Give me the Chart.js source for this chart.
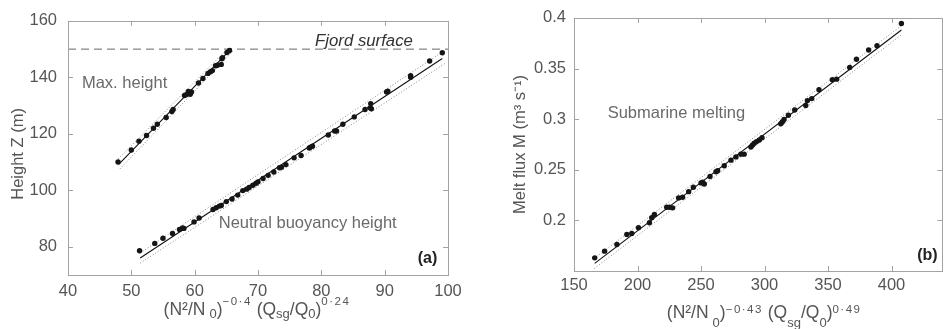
<!DOCTYPE html>
<html><head><meta charset="utf-8">
<script src="https://cdn.jsdelivr.net/npm/chart.js@4/dist/chart.umd.min.js"></script>
<style>
body{margin:0;background:#fff;width:945px;height:329px;overflow:hidden;position:relative}
canvas{position:absolute;top:0}
#ca{left:0}#cb{left:470px}
</style></head><body>
<canvas id="ca" width="470" height="329"></canvas>
<canvas id="cb" width="475" height="329"></canvas>
<script>
// ---------- Panel (a) data ----------
const maxHeightX = [47.9, 50.0, 51.2, 52.4, 53.5, 54.1, 55.5, 56.4, 56.6, 58.4, 58.7, 59.0, 59.2, 59.5, 59.3, 60.6, 61.3, 62.1, 62.5, 62.8, 63.3, 63.6, 64.2, 64.3, 64.4, 65.1, 65.5];
const maxHeightY = [110.0, 114.3, 117.4, 119.4, 122.0, 123.4, 125.8, 127.9, 128.6, 133.6, 133.9, 135.0, 134.4, 134.8, 134.0, 138.0, 139.6, 141.4, 142.0, 142.4, 144.1, 144.3, 144.6, 146.6, 147.0, 148.8, 149.5];
const neutralX = [51.3, 53.7, 55.0, 56.5, 57.6, 58.1, 58.3, 59.9, 60.7, 62.9, 63.4, 63.9, 64.2, 65.0, 65.9, 66.8, 67.6, 68.2, 68.6, 69.2, 69.7, 70.0, 70.8, 71.6, 72.5, 73.4, 73.7, 74.4, 75.7, 76.8, 78.1, 78.3, 78.6, 81.1, 82.1, 82.4, 83.4, 85.2, 86.9, 87.7, 87.8, 87.9, 90.3, 90.5, 94.1, 94.1, 97.1, 99.1];
const neutralY = [78.6, 81.2, 83.0, 84.7, 86.1, 86.7, 86.5, 88.8, 90.2, 93.2, 93.8, 94.4, 94.6, 96.0, 96.9, 98.3, 99.9, 100.4, 101.0, 101.8, 102.5, 103.0, 104.2, 105.3, 106.5, 108.0, 108.2, 109.1, 111.5, 112.3, 115.0, 115.3, 115.6, 119.6, 121.0, 121.0, 123.4, 126.0, 128.6, 129.2, 130.7, 128.9, 134.8, 135.1, 140.0, 140.6, 145.8, 148.7];
// fit lines and bounds (end points)
const maxFitX = [48.0, 65.8];      const maxFitY = [109.2, 150.2];
const maxUpX = [47.6, 65.3];       const maxUpY = [110.4, 150.4];
const maxLoX = [48.2, 66.0];       const maxLoY = [107.6, 149.2];
const neuFitX = [51.4, 99.1];      const neuFitY = [76.0, 146.7];
const neuUpX = [51.4, 99.5];       const neuUpY = [77.8, 149.6];
const neuLoX = [51.4, 99.5];       const neuLoY = [74.2, 144.9];
const fjordSurfaceZ = 150;
const xTicksA = [40, 50, 60, 70, 80, 90, 100];
const yTicksA = [80, 100, 120, 140, 160];

// ---------- Panel (b) data ----------
const meltX = [166.3, 174.1, 183.8, 191.6, 195.5, 200.8, 209.4, 211.2, 213.3, 223.0, 225.1, 227.7, 232.4, 235.5, 240.3, 244.0, 250.0, 251.3, 252.6, 257.1, 261.8, 263.1, 268.3, 273.6, 277.5, 281.4, 284.0, 289.3, 290.6, 291.9, 293.7, 295.9, 298.0, 312.8, 314.1, 315.4, 318.8, 323.8, 332.5, 333.8, 337.2, 342.9, 353.4, 356.8, 367.1, 372.4, 382.0, 388.6, 407.8];
const meltY = [0.163, 0.1696, 0.1762, 0.186, 0.187, 0.1928, 0.1977, 0.2026, 0.2059, 0.213, 0.213, 0.2124, 0.2222, 0.2229, 0.2284, 0.2327, 0.237, 0.2376, 0.236, 0.2434, 0.248, 0.249, 0.2539, 0.2595, 0.2627, 0.2654, 0.2654, 0.2725, 0.2745, 0.2762, 0.2778, 0.2794, 0.2817, 0.2954, 0.2974, 0.2997, 0.3039, 0.3091, 0.3134, 0.3183, 0.3203, 0.3291, 0.3389, 0.3395, 0.351, 0.3591, 0.3683, 0.3725, 0.3944];
const meltFitX = [166.3, 407.8];   const meltFitY = [0.1575, 0.388];
const meltUpX = [166.0, 408.0];    const meltUpY = [0.1625, 0.3925];
const meltLoX = [166.0, 408.0];    const meltLoY = [0.1525, 0.3835];
const xTicksB = [150, 200, 250, 300, 350, 400];
const yTicksB = [0.2, 0.25, 0.3, 0.35, 0.4];

// ---------- helpers ----------
const FAM = "'Liberation Sans', Arial, Helvetica, sans-serif";
const pts = (xs, ys) => xs.map((x, i) => ({x, y: ys[i]}));
const AXC = '#a3a3a3';

function scatterSet(xs, ys) {
  return {data: pts(xs, ys), showLine: false, pointRadius: 2.7, pointHoverRadius: 2.7,
    backgroundColor: '#151515', borderWidth: 0};
}
function lineSet(xs, ys, color, width, dash) {
  return {data: pts(xs, ys), showLine: true, pointRadius: 0, borderColor: color,
    borderWidth: width, borderDash: dash || [], fill: false, tension: 0};
}

function drawRich(ctx, parts, cx, base, color) {
  let w = 0;
  parts.forEach(p => {
    ctx.font = p.size + 'px ' + FAM; ctx.letterSpacing = (p.ls || 0) + 'px';
    p.w = ctx.measureText(p.t).width + (p.gap || 0); w += p.w;
  });
  let x = cx - w / 2;
  ctx.fillStyle = color; ctx.textBaseline = 'alphabetic'; ctx.textAlign = 'left';
  parts.forEach(p => {
    ctx.font = p.size + 'px ' + FAM; ctx.letterSpacing = (p.ls || 0) + 'px';
    ctx.fillText(p.t, x + (p.gap || 0), base + (p.dy || 0)); x += p.w;
  });
  ctx.letterSpacing = '0px';
}

const framePlugin = {
  id: 'frame',
  afterDatasetsDraw(chart, args, opts) {
    const {ctx, chartArea: a, scales} = chart;
    ctx.save();
    ctx.strokeStyle = AXC; ctx.lineWidth = 1;
    ctx.strokeRect(Math.round(a.left) + 0.5, Math.round(a.top) + 0.5, Math.round(a.right - a.left), Math.round(a.bottom - a.top));
    const L = 5;
    ctx.beginPath();
    scales.x.ticks.forEach(t => {
      const px = Math.round(scales.x.getPixelForValue(t.value)) + 0.5;
      ctx.moveTo(px, a.bottom); ctx.lineTo(px, a.bottom - L);
      ctx.moveTo(px, a.top); ctx.lineTo(px, a.top + L);
    });
    scales.y.ticks.forEach(t => {
      const py = Math.round(scales.y.getPixelForValue(t.value)) + 0.5;
      ctx.moveTo(a.left, py); ctx.lineTo(a.left + L, py);
      ctx.moveTo(a.right, py); ctx.lineTo(a.right - L, py);
    });
    ctx.stroke();
    // annotations placed in data coordinates
    (opts.notes || []).forEach(n => {
      ctx.font = (n.style || '') + ' ' + n.size + 'px ' + FAM;
      ctx.fillStyle = n.color; ctx.textAlign = n.align; ctx.textBaseline = 'middle';
      ctx.fillText(n.text, scales.x.getPixelForValue(n.x), scales.y.getPixelForValue(n.y));
    });
    // y axis title (rotated)
    if (opts.yTitle) {
      const t = opts.yTitle;
      ctx.save();
      ctx.translate(t.cx, (a.top + a.bottom) / 2 + (t.shift || 0));
      ctx.rotate(-Math.PI / 2);
      ctx.font = t.size + 'px ' + FAM; ctx.fillStyle = '#555';
      ctx.textAlign = 'center'; ctx.textBaseline = 'middle';
      ctx.fillText(t.text, 0, 0);
      ctx.restore();
    }
    // x axis title with sub/superscripts
    if (opts.xTitle) {
      const t = opts.xTitle;
      const cx = (a.left + a.right) / 2 + (t.shift || 0);
      drawRich(ctx, t.parts, cx, a.bottom + t.below, '#555');
    }
    ctx.restore();
  }
};

function makeChart(id, cfg) {
  return new Chart(document.getElementById(id), {
    type: 'scatter',
    data: {datasets: cfg.datasets},
    plugins: [framePlugin],
    options: {
      responsive: false, animation: false, devicePixelRatio: 1,
      layout: {padding: {top: 16, right: cfg.padRight, left: 0, bottom: 0}},
      plugins: {legend: {display: false}, tooltip: {enabled: false}, frame: cfg.frame},
      scales: {
        x: {type: 'linear', position: 'bottom', min: cfg.xMin, max: cfg.xMax,
          afterBuildTicks: s => { s.ticks = cfg.xTicks.map(v => ({value: v})); },
          afterFit: s => { s.height = cfg.xH; },
          grid: {display: false, drawTicks: false}, border: {display: false},
          ticks: {color: '#555', font: {family: FAM, size: 16.5}, padding: cfg.xPad, maxRotation: 0,
            callback: v => String(v)}},
        y: {type: 'linear', position: 'left', min: cfg.yMin, max: cfg.yMax,
          afterBuildTicks: s => { s.ticks = cfg.yTicks.map(v => ({value: v})); },
          afterFit: s => { s.width = cfg.yW; },
          grid: {display: false, drawTicks: false}, border: {display: false},
          ticks: {color: '#555', font: {family: FAM, size: 16.5}, padding: cfg.yPad,
            callback: v => String(v)},
          title: {display: false, text: cfg.frame.yTitle.text}}
      }
    }
  });
}

function titleParts(sup1, sup2, subDy, supDy) {
  return [
    {t: '(N²/N', size: 17.5},
    {t: '0', size: 13, dy: subDy, gap: 4},
    {t: ')', size: 17.5},
    {t: sup1, size: 11.5, dy: supDy, ls: 1.5},
    {t: ' (Q', size: 17.5},
    {t: 'sg', size: 13, dy: subDy},
    {t: '/Q', size: 17.5},
    {t: '0', size: 13, dy: subDy},
    {t: ')', size: 17.5},
    {t: sup2, size: 11.5, dy: supDy, ls: 1.5}
  ];
}

// ---------- Panel (a) ----------
makeChart('ca', {
  xMin: 40, xMax: 100, yMin: 70, yMax: 160, xTicks: xTicksA, yTicks: yTicksA,
  padRight: 22, xH: 54, yW: 68, xPad: 7, yPad: 11,
  datasets: [
    scatterSet(maxHeightX, maxHeightY),
    scatterSet(neutralX, neutralY),
    lineSet(maxFitX, maxFitY, '#111', 1.1),
    lineSet(neuFitX, neuFitY, '#111', 1.1),
    lineSet(maxUpX, maxUpY, '#888', 1, [1, 2]),
    lineSet(maxLoX, maxLoY, '#888', 1, [1, 2]),
    lineSet(neuUpX, neuUpY, '#888', 1, [1, 2]),
    lineSet(neuLoX, neuLoY, '#888', 1, [1, 2]),
    lineSet([40, 100], [fjordSurfaceZ, fjordSurfaceZ], '#666', 1, [8, 5])
  ],
  frame: {
    yTitle: {text: 'Height Z (m)', cx: 18.5, shift: 6, size: 16.5},
    notes: [
      {text: 'Max. height', x: 42.2, y: 137.7, align: 'left', size: 16.5, color: '#6a6a6a'},
      {text: 'Neutral buoyancy height', x: 63.8, y: 88.1, align: 'left', size: 16.5, color: '#6a6a6a'},
      {text: 'Fjord surface', x: 79.0, y: 152.7, align: 'left', size: 16.8, color: '#333', style: 'italic'},
      {text: '(a)', x: 98.3, y: 75.9, align: 'right', size: 16, color: '#222', style: 'bold'}
    ],
    xTitle: {below: 40, shift: -1, parts: titleParts('−0·4', '0·24', 3, -10)}
  }
});

// ---------- Panel (b) ----------
makeChart('cb', {
  xMin: 150, xMax: 440, yMin: 0.15, yMax: 0.4, xTicks: xTicksB, yTicks: yTicksB,
  padRight: 1, xH: 58, yW: 104, xPad: 5, yPad: 8,
  datasets: [
    scatterSet(meltX, meltY),
    lineSet(meltFitX, meltFitY, '#111', 1.1),
    lineSet(meltUpX, meltUpY, '#888', 1, [1, 2]),
    lineSet(meltLoX, meltLoY, '#888', 1, [1, 2])
  ],
  frame: {
    yTitle: {text: 'Melt flux M (m³ s⁻¹)', cx: 50, shift: 0, size: 16.5},
    notes: [
      {text: 'Submarine melting', x: 176.5, y: 0.3059, align: 'left', size: 16.5, color: '#6a6a6a'},
      {text: '(b)', x: 436.3, y: 0.1657, align: 'right', size: 16, color: '#222', style: 'bold'}
    ],
    xTitle: {below: 47, shift: 6, parts: titleParts('−0·43', '0·49', 8.5, -5)}
  }
});
</script>
</body></html>
